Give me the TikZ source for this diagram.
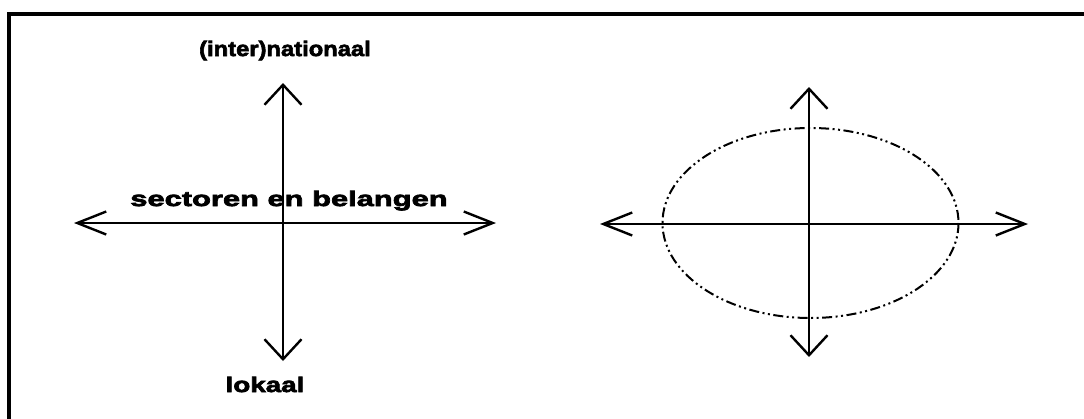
\documentclass[tikz,border=0pt]{standalone}
\usepackage{fontspec}
\usetikzlibrary{arrows.meta}
\newfontfamily\widebold{Liberation Sans Bold}[FakeStretch=1.47,FakeBold=3.5]
\tikzset{
  axis/.style={line width=2.2pt, line cap=round},
  harrow/.style={axis, {Straight Barb[length=29pt,width=23pt,line width=2.4pt]}-{Straight Barb[length=29pt,width=23pt,line width=2.4pt]}},
  varrow/.style={axis, {Straight Barb[length=20pt,width=37pt,line width=2.4pt]}-{Straight Barb[length=20pt,width=37pt,line width=2.4pt]}},
  lbl/.style={anchor=base, inner sep=0pt, font=\widebold\fontsize{21pt}{21pt}\selectfont},
  frameline/.style={line width=3.5pt},
  zone/.style={line width=2pt, dash pattern=on 10pt off 3.5pt on 2pt off 3.5pt on 2pt off 3.5pt},
}
\begin{document}
\begin{tikzpicture}[x=1pt,y=-1pt]
\useasboundingbox (0,0) rectangle (1084,418);
% open frame: top and left edges
\coordinate (ftl) at (9,14);
\coordinate (ftr) at (1090,14);
\coordinate (fbl) at (9,425);
\draw[frameline] (fbl) -- (ftl) -- (ftr);

% left cross with labels
\coordinate (lt) at (283,83);
\coordinate (lb) at (283,361);
\coordinate (ll) at (74,223);
\coordinate (lr) at (496,223);
\draw[varrow] (lb) -- (lt);
\draw[harrow] (ll) -- (lr);
\node[lbl, xscale=0.77] (nat) at (285,56) {(inter)nationaal};
\node[lbl] (sec) at (289,206) {sectoren en belangen};
\node[lbl, xscale=0.9] (lok) at (265,392) {lokaal};

% right cross with dash-dotted ellipse
\coordinate (rt) at (809,87);
\coordinate (rb) at (809,357);
\coordinate (rl) at (600,224);
\coordinate (rr) at (1028,224);
\coordinate (rc) at (810.5,223);
\draw[zone] (rc) ellipse [x radius=148, y radius=95];
\draw[varrow] (rb) -- (rt);
\draw[harrow] (rl) -- (rr);
\end{tikzpicture}
\end{document}
